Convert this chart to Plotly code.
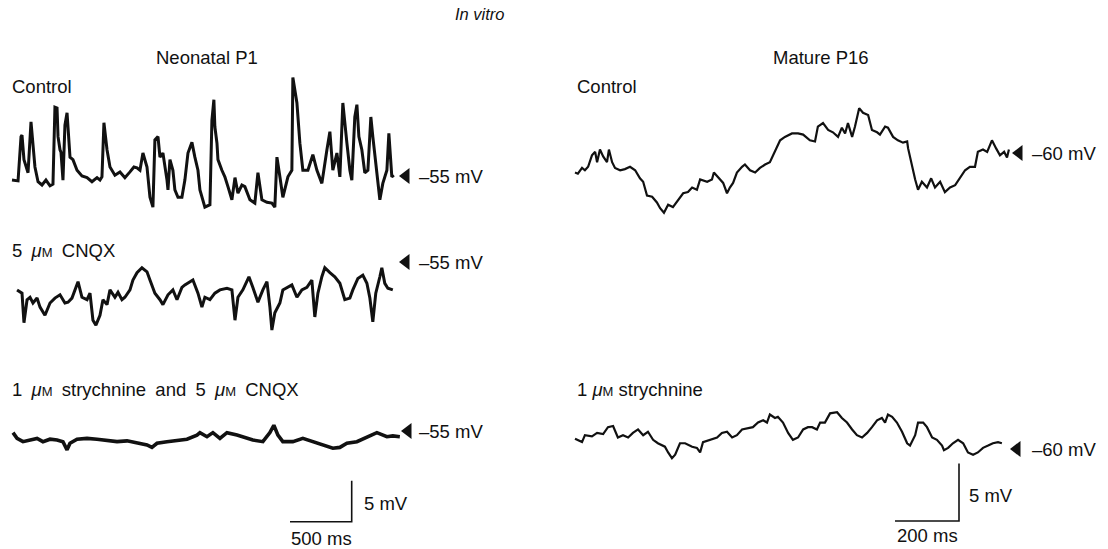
import plotly.graph_objects as go

# ------------------------------------------------------------------ data
# Neonatal P1 - Control  (time in ms, membrane potential in mV)
neo_ctrl_t = [0, 49, 73, 81, 97, 122, 130, 154, 170, 186, 211, 243, 275, 308, 332, 348, 365, 373, 389, 397,
              413, 429, 446, 470, 494, 527, 567, 608, 648, 689, 713, 729, 745, 770, 794, 834, 875, 915, 956, 988,
              1013, 1037, 1061, 1094, 1118, 1142, 1158, 1183, 1199, 1223, 1256, 1264, 1280, 1304, 1320, 1345,
              1377, 1401, 1426, 1458, 1482, 1507, 1523, 1563, 1604, 1620, 1636, 1644, 1661, 1669, 1701, 1725,
              1750, 1782, 1807, 1831, 1863, 1887, 1928, 1968, 1993, 2025, 2066, 2106, 2130, 2147, 2171, 2195,
              2236, 2268, 2276, 2309, 2333, 2357, 2398, 2438, 2471, 2511, 2552, 2576, 2600, 2633, 2657, 2681,
              2714, 2738, 2754, 2778, 2795, 2811, 2835, 2859, 2884, 2908, 2924, 2957, 2981, 3005, 3038, 3054,
              3078, 3094]
neo_ctrl_v = [-55.5, -55.6, -50.2, -50.0, -53.0, -54.3, -54.6, -48.4, -51.0, -53.9, -55.7, -56.1, -55.5, -56.2,
              -56.0, -46.6, -46.7, -50.2, -51.8, -52.1, -55.5, -48.8, -47.3, -52.7, -53.0, -54.3, -55.0, -55.2,
              -55.7, -55.2, -55.5, -55.1, -48.5, -51.8, -53.9, -54.9, -54.5, -55.2, -54.5, -53.9, -54.0, -54.3,
              -52.2, -53.9, -57.6, -58.8, -50.6, -50.2, -52.7, -52.2, -55.5, -56.7, -53.0, -54.3, -56.7, -57.6,
              -57.6, -55.5, -52.2, -50.9, -52.7, -54.3, -56.7, -58.8, -58.5, -48.2, -45.7, -49.0, -51.0, -53.0,
              -54.3, -55.1, -56.3, -57.9, -55.2, -57.1, -56.1, -56.3, -57.9, -58.3, -54.6, -57.9, -58.2, -58.3,
              -58.8, -52.7, -55.1, -57.6, -55.1, -54.3, -43.0, -46.1, -51.0, -54.3, -54.3, -52.4, -54.3, -55.9,
              -51.8, -49.6, -54.3, -52.2, -55.1, -46.1, -51.0, -54.3, -55.5, -47.8, -46.3, -50.2, -51.8, -54.6,
              -54.3, -47.8, -50.2, -54.3, -57.9, -55.9, -54.3, -49.8, -55.1, -54.9]

# Neonatal P1 - 5 uM CNQX
neo_cnqx_t = [41, 81, 97, 122, 146, 170, 203, 227, 267, 308, 348, 389, 429, 454, 486, 510, 535, 567, 608, 632,
              656, 680, 713, 737, 770, 794, 834, 859, 891, 915, 956, 980, 1013, 1053, 1094, 1118, 1158, 1199,
              1223, 1264, 1304, 1337, 1377, 1401, 1442, 1466, 1507, 1539, 1563, 1604, 1644, 1685, 1742, 1782,
              1807, 1831, 1871, 1920, 1952, 1993, 2033, 2066, 2090, 2106, 2130, 2171, 2195, 2236, 2268, 2309,
              2349, 2390, 2430, 2454, 2479, 2511, 2535, 2576, 2616, 2657, 2697, 2738, 2762, 2803, 2843, 2876,
              2900, 2924, 2948, 2981, 2997, 3021, 3046, 3086]
neo_cnqx_v = [-58.4, -58.8, -62.4, -59.6, -59.3, -60.0, -59.4, -60.5, -61.5, -60.0, -59.4, -59.0, -60.0, -59.9,
              -59.4, -58.4, -57.4, -59.3, -59.6, -58.8, -62.1, -62.7, -61.5, -59.6, -60.2, -58.4, -59.3, -58.7,
              -59.6, -59.3, -58.4, -57.2, -56.3, -55.7, -56.2, -57.2, -58.8, -59.6, -60.2, -59.0, -58.4, -59.6,
              -58.1, -57.8, -57.4, -57.2, -58.8, -60.5, -59.3, -59.6, -58.8, -58.4, -58.2, -58.4, -62.1, -59.3,
              -58.4, -56.8, -58.1, -59.9, -58.4, -57.4, -60.5, -63.3, -61.2, -60.0, -58.4, -58.1, -57.8, -59.3,
              -58.4, -58.1, -57.2, -61.7, -58.8, -56.8, -55.7, -56.3, -56.8, -57.6, -59.6, -59.4, -58.4, -57.0,
              -56.6, -57.6, -59.4, -62.3, -58.8, -56.8, -55.7, -57.6, -58.2, -58.4]

# Neonatal P1 - 1 uM strychnine and 5 uM CNQX
neo_stry_t = [8, 41, 89, 146, 203, 251, 308, 365, 413, 446, 470, 527, 608, 689, 770, 851, 932, 1013, 1094, 1134,
              1175, 1256, 1337, 1418, 1499, 1523, 1580, 1628, 1685, 1742, 1823, 1904, 1952, 2033, 2090, 2122,
              2155, 2195, 2276, 2357, 2438, 2519, 2600, 2657, 2714, 2795, 2876, 2957, 3038, 3086, 3143]
neo_stry_v = [-55.2, -55.9, -56.3, -56.1, -55.9, -56.3, -56.0, -56.1, -56.3, -57.3, -56.5, -56.0, -55.9, -56.0,
              -56.2, -56.3, -56.2, -56.5, -56.7, -57.0, -56.5, -56.3, -56.1, -56.0, -55.5, -55.2, -55.7, -55.2,
              -55.9, -55.2, -55.5, -55.9, -56.1, -56.3, -55.2, -54.3, -55.5, -56.3, -56.3, -55.9, -56.3, -56.7,
              -57.1, -57.0, -56.5, -56.3, -55.7, -55.2, -55.7, -55.6, -55.7]

# Mature P16 - Control
mat_ctrl_t = [0, 9, 22, 31, 41, 53, 63, 69, 78, 88, 100, 106, 116, 125, 141, 156, 172, 188, 203, 213, 225, 241,
              256, 266, 278, 291, 306, 322, 338, 353, 366, 381, 391, 413, 428, 434, 447, 463, 475, 484, 494, 506,
              522, 531, 547, 563, 578, 594, 609, 625, 641, 656, 672, 678, 697, 713, 734, 750, 759, 775, 791, 806,
              822, 834, 844, 853, 866, 875, 888, 900, 916, 928, 944, 953, 969, 978, 994, 1009, 1025, 1038, 1041,
              1053, 1063, 1072, 1084, 1100, 1113, 1125, 1141, 1156, 1172, 1188, 1203, 1219, 1234, 1250, 1259,
              1275, 1288, 1303, 1316, 1328, 1341, 1350, 1356]
mat_ctrl_v = [-61.7, -61.8, -61.3, -61.5, -61.2, -60.2, -59.9, -60.8, -59.7, -60.3, -60.8, -59.7, -60.8, -61.3,
              -61.5, -61.4, -61.2, -61.5, -62.2, -62.5, -63.7, -63.8, -64.3, -64.8, -65.2, -64.5, -64.7, -64.1,
              -63.5, -63.4, -63.0, -63.2, -62.3, -62.5, -62.3, -61.7, -62.1, -62.6, -63.5, -63.0, -62.6, -61.7,
              -61.2, -61.0, -61.5, -61.7, -61.3, -61.0, -60.8, -59.9, -58.9, -58.6, -58.4, -58.3, -58.3, -58.4,
              -58.9, -59.0, -57.7, -57.4, -58.0, -58.2, -58.6, -57.8, -58.3, -57.4, -58.6, -57.7, -56.1, -56.5,
              -56.7, -58.0, -58.2, -58.4, -57.7, -57.8, -58.6, -58.9, -59.1, -59.0, -59.6, -61.2, -62.3, -63.2,
              -62.5, -63.0, -62.2, -63.0, -62.5, -63.4, -63.0, -62.8, -62.2, -61.5, -61.2, -61.2, -59.9, -59.7,
              -59.9, -58.9, -59.6, -60.2, -59.9, -60.4, -59.7]

# Mature P16 - 1 uM strychnine
mat_stry_t = [0, 22, 31, 53, 69, 88, 103, 119, 134, 150, 166, 181, 197, 213, 228, 244, 259, 281, 291, 303, 313,
              328, 344, 366, 381, 391, 400, 422, 444, 459, 475, 491, 506, 522, 538, 556, 572, 588, 600, 609, 625,
              634, 650, 666, 681, 697, 713, 728, 741, 756, 766, 781, 797, 819, 834, 850, 866, 881, 897, 913, 928,
              944, 959, 969, 978, 991, 1006, 1022, 1038, 1047, 1063, 1072, 1088, 1100, 1116, 1131, 1147, 1153,
              1166, 1181, 1197, 1213, 1228, 1244, 1259, 1275, 1291, 1306, 1322, 1334]
mat_stry_v = [-59.1, -59.4, -58.8, -58.9, -58.6, -58.7, -58.1, -58.0, -59.0, -58.8, -59.0, -58.6, -58.3, -58.8,
              -58.5, -59.2, -59.5, -59.8, -60.3, -60.8, -60.5, -59.5, -59.5, -59.8, -59.9, -60.3, -59.4, -59.2,
              -59.0, -58.6, -58.5, -59.0, -58.8, -58.3, -58.2, -58.1, -57.7, -57.5, -57.7, -57.0, -57.3, -57.2,
              -57.7, -58.6, -59.2, -59.0, -58.3, -58.1, -58.1, -58.3, -57.7, -57.7, -56.9, -56.8, -57.3, -57.7,
              -58.3, -58.8, -59.0, -58.6, -58.1, -57.5, -57.3, -57.7, -57.0, -57.2, -57.7, -58.5, -59.5, -59.7,
              -58.8, -57.7, -57.7, -58.1, -59.0, -59.2, -59.7, -60.1, -59.9, -59.5, -59.2, -59.5, -60.3, -60.5,
              -60.3, -59.9, -59.7, -59.5, -59.4, -59.5]

# reference potentials marked by the arrows (mV)
neo_rest = -55
mat_rest = -60
# calibration bars
neo_bar_ms, neo_bar_mv = 500, 5
mat_bar_ms, mat_bar_mv = 200, 5

# ------------------------------------------------------------------ layout geometry (pixels)
W, H = 1108, 549
NEO_X0, NEO_PX_MS = 12, 0.1234      # px of t=0, px per ms
MAT_X0, MAT_PX_MS = 575, 0.32
NEO_PX_MV, MAT_PX_MV = 8.2, 11.5
ROW_REF_PX = [176, 262, 431, 153, 449]   # pixel row of the reference potential for each trace
FONT = "Liberation Sans, Arial, Helvetica, sans-serif"
FS = 18.5
INK = "#111111"


def xrange_for(x0, k, d0, d1):
    return [(d0 * W - x0) / k, (d1 * W - x0) / k]


def yrange_for(ref_v, ref_px, k):
    return [ref_v - (H - ref_px) / k, ref_v + ref_px / k]


def px(x):
    return x / W


def py(y):
    return 1 - y / H


fig = go.Figure()

line_neo = dict(color=INK, width=3.0)
line_mat = dict(color=INK, width=2.2)

series = [
    (neo_ctrl_t, neo_ctrl_v, "x", "y", line_neo),
    (neo_cnqx_t, neo_cnqx_v, "x", "y2", line_neo),
    (neo_stry_t, neo_stry_v, "x", "y3", dict(color=INK, width=3.6)),
    (mat_ctrl_t, mat_ctrl_v, "x2", "y4", line_mat),
    (mat_stry_t, mat_stry_v, "x2", "y5", line_mat),
]
for t, v, xa, ya, ln in series:
    fig.add_trace(go.Scatter(x=t, y=v, xaxis=xa, yaxis=ya, mode="lines", line=ln,
                             hoverinfo="skip", showlegend=False))

# arrows marking the reference potential
for xa, ya, xpix, vv in [("x", "y", 406, neo_rest), ("x", "y2", 406, neo_rest), ("x", "y3", 408, neo_rest),
                         ("x2", "y4", 1019, mat_rest), ("x2", "y5", 1017, mat_rest)]:
    tt = (xpix - NEO_X0) / NEO_PX_MS if xa == "x" else (xpix - MAT_X0) / MAT_PX_MS
    fig.add_trace(go.Scatter(x=[tt], y=[vv], xaxis=xa, yaxis=ya, mode="markers",
                             marker=dict(symbol="triangle-left", size=14, color=INK, line=dict(width=0)),
                             hoverinfo="skip", showlegend=False))

# calibration bars
neo_corner_t = (351.7 - NEO_X0) / NEO_PX_MS
neo_corner_v = neo_rest - (521.7 - ROW_REF_PX[2]) / NEO_PX_MV
fig.add_trace(go.Scatter(x=[neo_corner_t - neo_bar_ms, neo_corner_t, neo_corner_t],
                         y=[neo_corner_v, neo_corner_v, neo_corner_v + neo_bar_mv],
                         xaxis="x", yaxis="y3", mode="lines", line=dict(color=INK, width=1.6),
                         hoverinfo="skip", showlegend=False))
mat_corner_t = (959 - MAT_X0) / MAT_PX_MS
mat_corner_v = mat_rest - (521 - ROW_REF_PX[4]) / MAT_PX_MV
fig.add_trace(go.Scatter(x=[mat_corner_t - mat_bar_ms, mat_corner_t, mat_corner_t],
                         y=[mat_corner_v, mat_corner_v, mat_corner_v + mat_bar_mv],
                         xaxis="x2", yaxis="y5", mode="lines", line=dict(color=INK, width=1.6),
                         hoverinfo="skip", showlegend=False))

hidden = dict(visible=False, showgrid=False, zeroline=False, fixedrange=True)
fig.update_layout(
    width=W, height=H, margin=dict(l=0, r=0, t=0, b=0),
    paper_bgcolor="white", plot_bgcolor="rgba(0,0,0,0)",
    xaxis=dict(domain=[0, 0.5], range=xrange_for(NEO_X0, NEO_PX_MS, 0, 0.5), anchor="y", **hidden),
    xaxis2=dict(domain=[0.5, 1], range=xrange_for(MAT_X0, MAT_PX_MS, 0.5, 1), anchor="y4", **hidden),
    yaxis=dict(domain=[0, 1], range=yrange_for(neo_rest, ROW_REF_PX[0], NEO_PX_MV), anchor="x", **hidden),
    yaxis2=dict(domain=[0, 1], range=yrange_for(neo_rest, ROW_REF_PX[1], NEO_PX_MV), anchor="x", **hidden),
    yaxis3=dict(domain=[0, 1], range=yrange_for(neo_rest, ROW_REF_PX[2], NEO_PX_MV), anchor="x", **hidden),
    yaxis4=dict(domain=[0, 1], range=yrange_for(mat_rest, ROW_REF_PX[3], MAT_PX_MV), anchor="x2", **hidden),
    yaxis5=dict(domain=[0, 1], range=yrange_for(mat_rest, ROW_REF_PX[4], MAT_PX_MV), anchor="x2", **hidden),
    font=dict(family=FONT, size=FS, color=INK),
)

MU_M = "<i>μ</i><span style='font-size:13px'>M</span>"
EN = "\u2002"   # wider word space, as typeset in the original
ann = []


def label(text, x, y, xanchor="left", size=FS):
    ann.append(dict(text=text, x=px(x), y=py(y), xref="paper", yref="paper", xanchor=xanchor,
                    yanchor="middle", showarrow=False, font=dict(family=FONT, size=size, color=INK)))


label("<i>In vitro</i>", 480, 14, "center", 16.5)
label("Neonatal P1", 207, 57, "center")
label("Mature P16", 821, 57, "center")
label("Control", 10, 87)
label("Control", 575, 87)
label("5" + EN + MU_M + EN + "CNQX", 10, 250)
label("1" + EN + MU_M + EN + "strychnine" + EN + "and" + EN + "5" + EN + MU_M + EN + "CNQX", 10, 389)
label("1 " + MU_M + " strychnine", 575, 389)
label("5 mV", 362, 503)
label("500 ms", 321, 538, "center")
label("5 mV", 967, 495)
label("200 ms", 927, 535, "center")

for ya in ["y", "y2", "y3"]:
    ann.append(dict(text="–55 mV", x=(417 - NEO_X0) / NEO_PX_MS, y=neo_rest, xref="x", yref=ya,
                    xanchor="left", yanchor="middle", showarrow=False))
for ya in ["y4", "y5"]:
    ann.append(dict(text="–60 mV", x=(1030 - MAT_X0) / MAT_PX_MS, y=mat_rest, xref="x2", yref=ya,
                    xanchor="left", yanchor="middle", showarrow=False))

fig.update_layout(annotations=ann)
fig.write_html("out.html")
